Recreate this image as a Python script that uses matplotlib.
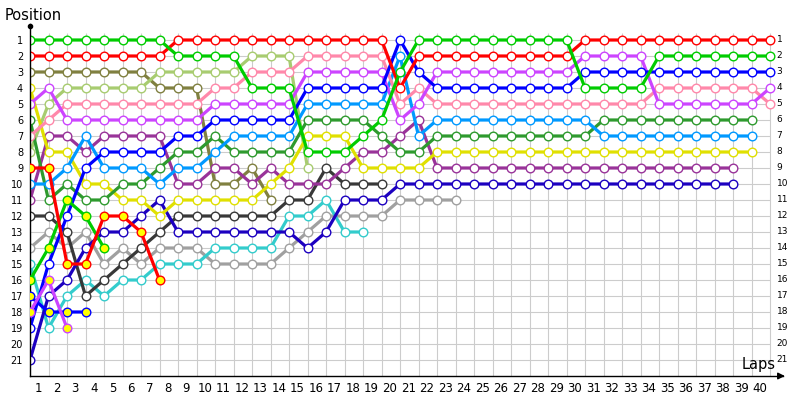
import matplotlib
matplotlib.use("Agg")
import matplotlib.pyplot as plt
import numpy as np

# positions per lap, starting grid = lap 0
green = [1]*8 + [2]*4 + [4]*3 + [8]*3 + [7, 6, 3] + [1]*9 + [4]*4 + [2]*7
red = [2]*8 + [1]*12 + [4] + [2]*9 + [1]*11
olive = [3]*7 + [4]*3 + [10, 10, 9, 11]
lightgreen = [8, 5] + [4]*5 + [3]*5 + [2]*3 + [9]
yellow = [4, 8, 8, 10, 10, 11, 11, 12] + [11]*5 + [10, 9] + [7]*3 + [9]*4 + [8]*18
violet = [5, 4] + [6]*8 + [5]*5 + [3]*5 + [6, 5] + [3]*8 + [2]*4 + [5]*6 + [4]
darkgreen = [6, 11, 10, 11, 11, 10, 10, 9, 8, 8, 7] + [8]*4 + [6]*4 + [7, 8, 8] + [7]*9 + [6]*9
pink = [7, 6] + [5]*8 + [4]*2 + [3]*3 + [2]*5 + [5, 4] + [5]*12 + [4]*6 + [5]
lightblue = [10, 10, 9, 7, 9, 9, 9, 10, 9, 9, 8] + [7]*4 + [5]*5 + [2, 7] + [6]*9 + [7]*9
darkpurple = [11, 7, 7, 8, 7, 7, 7, 7, 10, 10, 9, 9, 10, 9, 10, 10, 10, 9, 8, 8, 7, 6] + [9]*17
darkgray = [12, 12, 13, 17, 16, 15, 14, 13] + [12]*6 + [11, 11, 9, 10, 10, 10]
gray = [14, 13, 14, 13, 15, 14, 15, 14, 14, 14] + [15]*4 + [14, 13] + [12]*4 + [11]*4
cyan = [15, 19, 17, 16, 17, 16, 16, 15, 15, 15] + [14]*4 + [12, 12, 11, 13, 13]
darkblue = [21, 17, 16, 14, 13, 13, 12, 11] + [13]*7 + [14, 13, 11, 11, 11] + [10]*19
blue = [19, 15, 12, 9] + [8]*4 + [7]*2 + [6]*5 + [4]*5 + [1, 3] + [4]*8 + [3]*11
blue2 = [17, 18, 18, 18]
violet2 = [18, 16, 19]
green2 = [16, 14, 11, 12, 14]
red2 = [9, 9, 15, 15, 12, 12, 13, 16]

drivers = [
    (gray, '#a0a0a0'), (cyan, '#33cccc'), (darkgray, '#383838'),
    (darkblue, '#1c00c0'), (olive, '#808040'), (lightgreen, '#a8cc70'),
    (darkpurple, '#993399'), (yellow, '#e0e000'), (darkgreen, '#2e9a2e'),
    (lightblue, '#0099ff'), (pink, '#ff88aa'), (violet, '#cc44ff'),
    (blue, '#0000ff'), (red, '#ff0000'), (green, '#00cc00'),
]
# drivers whose markers are filled yellow
yellow_drivers = [(blue2, '#0000ff'), (violet2, '#cc44ff'), (green2, '#00cc00'), (red2, '#ff0000')]

nlaps = 40
npos = 21

fig = plt.figure(figsize=(8, 4), dpi=100)
ax = fig.add_axes([30/800, 24/400, 753/800, 352/400])
ax.set_xlim(0, 40.7)
ax.set_ylim(22, 0)

# grid
ax.hlines(np.arange(1, npos+1), 0, nlaps, color='#cccccc', lw=0.8, zorder=0)
ax.vlines(np.arange(0, nlaps+1), 0.55, 22, color='#cccccc', lw=0.8, zorder=0)

for pos, c in drivers:
    laps = np.arange(len(pos))
    ax.plot(laps, pos, color=c, lw=2.3, marker='o', ms=6.2, mfc='white', mec=c, mew=1.0, zorder=2)

for pos, c in yellow_drivers:
    laps = np.arange(len(pos))
    ax.plot(laps, pos, color=c, lw=2.3, marker='o', ms=6.2, mfc='#ffff00', mec=c, mew=1.0, zorder=3)

# axes styling
for s in ['top', 'right']:
    ax.spines[s].set_visible(False)
ax.spines['left'].set_linewidth(1.0)
ax.spines['bottom'].set_linewidth(1.0)
ax.plot(0, 0.1, marker='o', ms=3, color='black', clip_on=False, zorder=5)
ax.annotate('', xy=(40.95, 22), xytext=(40.3, 22),
            arrowprops=dict(arrowstyle='-|>', color='black', lw=1, mutation_scale=10),
            annotation_clip=False)

ax.set_yticks(np.arange(1, npos+1))
ax.set_yticklabels([str(p) for p in range(1, npos+1)], fontsize=7)
ax.set_xticks(np.arange(1, nlaps+1) - 0.55)
ax.set_xticklabels([str(k) for k in range(1, nlaps+1)], fontsize=8.5)
ax.tick_params(axis='both', length=0)
ax.tick_params(axis='y', pad=5)
ax.tick_params(axis='x', pad=4)

for p in range(1, npos+1):
    ax.text(40.35, p, str(p), fontsize=6.5, va='center', ha='left')

fig.text(5/800, 1 - 15/400, 'Position', fontsize=10.5, va='center')
fig.text(742/800, 1 - 365/400, 'Laps', fontsize=10.5, va='center')

fig.savefig('out.png', dpi=100)
